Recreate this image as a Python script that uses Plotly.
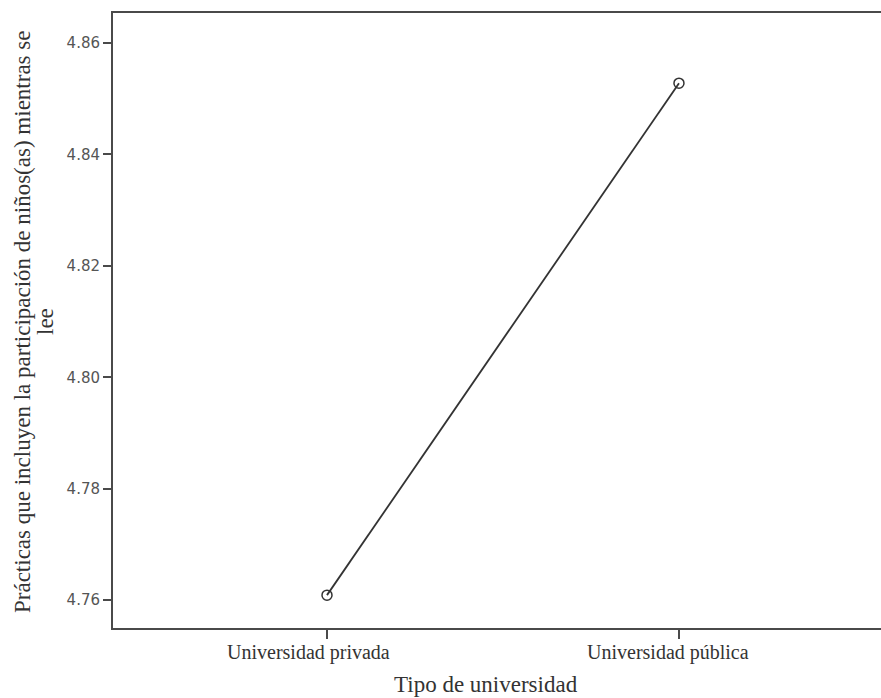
import plotly.graph_objects as go

categories = ["Universidad privada", "Universidad pública"]
means = [4.7609, 4.8528]
y_ticks = [4.76, 4.78, 4.80, 4.82, 4.84, 4.86]
y_tick_labels = ["4.76", "4.78", "4.80", "4.82", "4.84", "4.86"]
label_shift = [-19, -11]

W, H = 881, 698
L, R, T, B = 113, 0, 13, 70
pw, ph = W - L - R, H - T - B

SERIF = "Liberation Serif, Times New Roman, serif"
TXT = "#333333"

fig = go.Figure()
fig.add_trace(go.Scatter(
    x=categories, y=means, mode="lines+markers",
    line=dict(color="#333333", width=1.8),
    marker=dict(symbol="circle-open", size=10, color="#333333", line=dict(width=1.5)),
    showlegend=False, hoverinfo="skip",
))

annotations = []
for cat, sh in zip(categories, label_shift):
    annotations.append(dict(
        text=cat, x=cat, xref="x", y=-25 / ph, yref="paper",
        xanchor="center", yanchor="middle", xshift=sh, showarrow=False,
        font=dict(family=SERIF, size=20, color=TXT)))

annotations += [
    dict(text="Prácticas que incluyen la participación de niños(as) mientras se",
         xref="paper", yref="paper", x=(22 - L) / pw, y=(628 - 322) / ph,
         xanchor="center", yanchor="middle", textangle=-90, showarrow=False,
         font=dict(family=SERIF, size=23, color=TXT)),
    dict(text="lee",
         xref="paper", yref="paper", x=(45 - L) / pw, y=(628 - 322) / ph,
         xanchor="center", yanchor="middle", textangle=-90, showarrow=False,
         font=dict(family=SERIF, size=23, color=TXT)),
    dict(text="Tipo de universidad",
         xref="paper", yref="paper", x=(486 - L) / pw, y=-56 / ph,
         xanchor="center", yanchor="middle", showarrow=False,
         font=dict(family=SERIF, size=23, color=TXT)),
]

fig.update_layout(
    width=W, height=H,
    margin=dict(l=L, r=R, t=T, b=B),
    paper_bgcolor="white", plot_bgcolor="white",
    xaxis=dict(
        type="category", range=[-0.608, 1.574],
        showgrid=False, zeroline=False,
        showline=True, linecolor="#4a4a4a", linewidth=2, mirror=True,
        ticks="outside", ticklen=9, tickcolor="#4a4a4a", tickwidth=1.8,
        showticklabels=False,
    ),
    yaxis=dict(
        range=[4.755, 4.8654],
        tickvals=y_ticks, ticktext=y_tick_labels,
        showgrid=False, zeroline=False,
        showline=True, linecolor="#4a4a4a", linewidth=2, mirror=False,
        ticks="outside", ticklen=8, tickcolor="#4a4a4a", tickwidth=1.8,
        tickfont=dict(family="DejaVu Sans, sans-serif", size=15, color="#555555"),
    ),
    annotations=annotations,
)

fig.write_html("out.html", config={"displayModeBar": False},
               post_script="document.body.style.margin='0';document.body.style.overflow='hidden';")
